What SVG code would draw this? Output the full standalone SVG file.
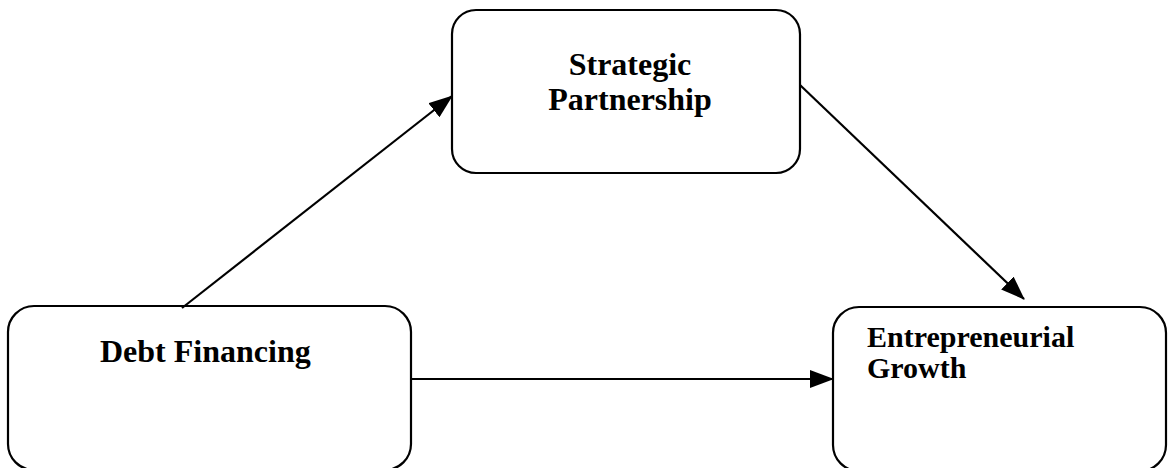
<svg xmlns="http://www.w3.org/2000/svg" width="1168" height="468" viewBox="0 0 1168 468">
<style>
.box{fill:#fff;stroke:#000;stroke-width:2.2}
.lbl{font-family:"Liberation Serif","Times New Roman",serif;font-weight:bold;font-size:32px;fill:#000}
.lbl2{font-family:"Liberation Serif","Times New Roman",serif;font-weight:bold;font-size:30px;fill:#000}
.con{stroke:#000;stroke-width:2.2;fill:none}
</style>
<defs>
<marker id="ah" markerUnits="userSpaceOnUse" markerWidth="24" markerHeight="18" refX="23" refY="9" orient="auto">
<path d="M0,0 L24,9 L0,18 Z" fill="#000"/>
</marker>
</defs>
<rect width="1168" height="468" fill="#fff"/>
<g id="strategic">
<rect class="box" x="452" y="10" width="348" height="163" rx="24"/>
<text class="lbl" x="630" y="75" text-anchor="middle">Strategic</text>
<text class="lbl" x="630" y="110" text-anchor="middle">Partnership</text>
</g>
<g id="debt">
<rect class="box" x="8" y="306" width="403" height="164" rx="26"/>
<text class="lbl" x="100" y="362">Debt Financing</text>
</g>
<g id="growth">
<rect class="box" x="833" y="307" width="333" height="164" rx="26"/>
<text class="lbl2" x="867" y="347">Entrepreneurial</text>
<text class="lbl2" x="867" y="378">Growth</text>
</g>
<g id="connectors">
<line class="con" x1="182" y1="308" x2="452" y2="96" marker-end="url(#ah)"/>
<line class="con" x1="800" y1="85" x2="1024" y2="299" marker-end="url(#ah)"/>
<line class="con" x1="411" y1="379" x2="833" y2="379" marker-end="url(#ah)"/>
</g>
</svg>
